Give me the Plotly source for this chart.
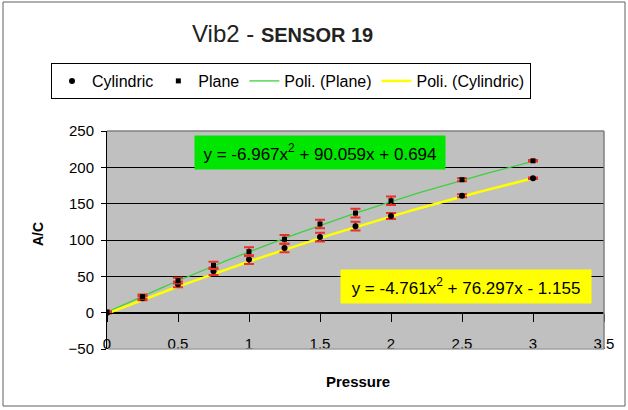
import numpy as np
import plotly.graph_objects as go

# measured data (pressure vs A/C)
pressure = [0, 0.25, 0.5, 0.75, 1, 1.25, 1.5, 1.75, 2, 2.5, 3]
plane = [1, 22, 44, 65, 84, 101, 122, 137, 154, 183, 209]
cylindric = [0, 20, 39, 57, 73, 89, 104, 119, 133, 161, 185]
plane_err = [1, 3, 4, 5, 6, 6, 6, 6, 6, 2, 1]
cyl_err = [1, 3, 4, 5, 6, 6, 6, 6, 4, 2, 1]

# polynomial trendline coefficients (a x^2 + b x + c) as displayed
poly_plane = [-6.967, 90.059, 0.694]
poly_cyl = [-4.761, 76.297, -1.155]

font = "Liberation Sans, Arial, sans-serif"

fit_x = np.linspace(0, 3, 61)

fig = go.Figure()
# trendlines first so markers sit on top
fig.add_trace(go.Scatter(
    x=fit_x, y=np.polyval(poly_plane, fit_x), mode="lines", name="Poli. (Plane)",
    line=dict(color="#3fcf3f", width=1.3), legendrank=3,
))
fig.add_trace(go.Scatter(
    x=fit_x, y=np.polyval(poly_cyl, fit_x), mode="lines", name="Poli. (Cylindric)",
    line=dict(color="#ffff00", width=2.5), legendrank=4,
))
fig.add_trace(go.Scatter(
    x=pressure, y=cylindric, mode="markers", name="Cylindric",
    marker=dict(symbol="circle", size=6, color="black"),
    error_y=dict(type="data", array=cyl_err, color="#e8322a", thickness=2, width=5),
    legendrank=1,
))
fig.add_trace(go.Scatter(
    x=pressure, y=plane, mode="markers", name="Plane",
    marker=dict(symbol="square", size=5, color="black"),
    error_y=dict(type="data", array=plane_err, color="#e8322a", thickness=2, width=5),
    legendrank=2,
))

def px_x(p):
    return (p - 107) / 497

def px_y(p):
    return (349 - p) / 218

fig.update_layout(
    width=628, height=410,
    margin=dict(l=107, r=24, t=131, b=61),
    paper_bgcolor="white",
    plot_bgcolor="#c0c0c0",
    font=dict(family=font, size=15, color="black"),
    showlegend=True,
    legend=dict(
        orientation="h", x=px_x(291), y=px_y(81), xanchor="center", yanchor="middle",
        bordercolor="black", borderwidth=1, bgcolor="white",
        font=dict(size=16), traceorder="normal", itemwidth=30,
    ),
    xaxis=dict(
        range=[0, 3.5], dtick=0.5, showgrid=False, zeroline=False,
        anchor="free", position=50 / 300,
        showline=True, linecolor="black", linewidth=1,
        ticks="outside", ticklen=8, tickcolor="black",
        tickfont=dict(size=15), ticklabelstandoff=9,
    ),
    yaxis=dict(
        range=[-50, 250], dtick=50, showgrid=True, gridcolor="black", gridwidth=1,
        zeroline=False, showline=True, linecolor="black", linewidth=1,
        ticks="outside", ticklen=5, tickcolor="black",
        tickfont=dict(size=15), ticklabelstandoff=4,
    ),
    shapes=[
        # plot area border (top, right, bottom) in grey
        dict(type="line", xref="paper", yref="paper", x0=0, x1=1, y0=1, y1=1,
             line=dict(color="#808080", width=1.5), layer="above"),
        dict(type="line", xref="paper", yref="paper", x0=1, x1=1, y0=0, y1=1,
             line=dict(color="#808080", width=1.5), layer="above"),
        dict(type="line", xref="paper", yref="paper", x0=0.002, x1=1, y0=0, y1=0,
             line=dict(color="#a0a0a0", width=1.5), layer="above"),
        # chart area border
        dict(type="rect", xref="paper", yref="paper",
             x0=px_x(3), x1=px_x(625), y0=px_y(406), y1=px_y(2),
             line=dict(color="#606060", width=1)),
    ],
    annotations=[
        dict(text="Vib2 - <b><span style='font-size:20px'>SENSOR 19</span></b>",
             xref="paper", yref="paper", x=px_x(282), y=px_y(33),
             showarrow=False, font=dict(size=24, color="#222222"),
             xanchor="center", yanchor="middle"),
        dict(text="<b>Pressure</b>", xref="paper", yref="paper",
             x=px_x(358), y=px_y(381), showarrow=False,
             font=dict(size=15), xanchor="center", yanchor="middle"),
        dict(text="<b>A/C</b>", xref="paper", yref="paper", textangle=-90,
             x=px_x(38), y=px_y(234), showarrow=False,
             font=dict(size=14), xanchor="center", yanchor="middle"),
        dict(text="y = -6.967x<sup>2</sup> + 90.059x + 0.694",
             x=1.503, y=221, xref="x", yref="y", showarrow=False,
             bgcolor="#00e600", width=248, height=31, font=dict(size=17)),
        dict(text="y = -4.761x<sup>2</sup> + 76.297x - 1.155",
             x=2.53, y=35.7, xref="x", yref="y", showarrow=False,
             bgcolor="#ffff00", width=248, height=31, font=dict(size=17)),
    ],
)

fig.write_html("out.html", config={"displayModeBar": False},
               post_script="document.body.style.margin='0px';")
